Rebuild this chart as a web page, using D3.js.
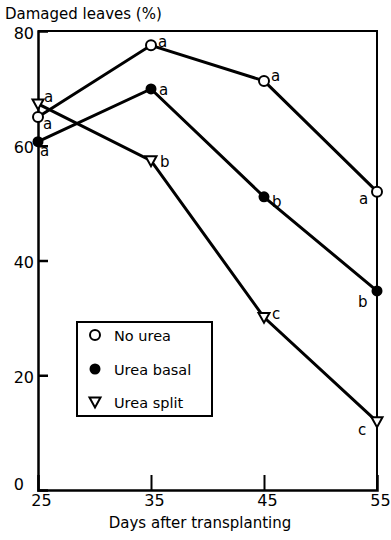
<!DOCTYPE html>
<html>
<head>
<meta charset="utf-8">
<script src="https://cdn.jsdelivr.net/npm/d3@7"></script>
<style>
  html, body { margin: 0; padding: 0; background: #fff; }
  svg { display: block; }
  text { font-family: "DejaVu Sans", sans-serif; fill: #000; }
</style>
</head>
<body>
<svg id="chart" width="391" height="540"></svg>
<script>
// Days after transplanting
const days = [25, 35, 45, 55];
// Damaged leaves (%) per treatment
const noUrea = [65, 77.5, 71.3, 52];
const ureaBasal = [60.7, 69.9, 51.1, 34.7];
const ureaSplit = [67.3, 57.4, 30.1, 11.9];
// Significance letters per treatment
const lettersNoUrea = ["a", "a", "a", "a"];
const lettersBasal = ["a", "a", "b", "b"];
const lettersSplit = ["a", "b", "c", "c"];
// Axis ticks
const yTicks = [0, 20, 40, 60, 80];
const xTicks = [25, 35, 45, 55];
const seriesNames = ["No urea", "Urea basal", "Urea split"];

const svg = d3.select("#chart");
const x = d3.scaleLinear().domain([25, 55]).range([38, 377]);
const y = d3.scaleLinear().domain([0, 80]).range([490, 31]);

// frame: top and right borders
svg.append("path")
  .attr("d", `M${x(25)},${y(80)}H${x(55)}V${y(0)}`)
  .attr("fill", "none").attr("stroke", "#000").attr("stroke-width", 2);

// y axis with inward ticks
const yAxis = svg.append("g").attr("transform", `translate(${x(25)},0)`)
  .call(d3.axisLeft(y).tickValues(yTicks).tickSize(-10).tickPadding(4).tickFormat(d3.format("d")));
yAxis.select(".domain").attr("stroke-width", 2.5);
yAxis.selectAll(".tick line").attr("stroke-width", 2.5);
yAxis.selectAll(".tick text").attr("font-size", 16).attr("font-family", "DejaVu Sans")
  .attr("fill", "#000").attr("dy", "0.45em");
yAxis.selectAll(".tick").filter(d => d === 0).select("text").attr("dy", "-0.05em").attr("x", -14);
yAxis.selectAll(".tick").filter(d => d === 80 || d === 0).select("line").remove();

// x axis with inward ticks
const xAxis = svg.append("g").attr("transform", `translate(0,${y(0)})`)
  .call(d3.axisBottom(x).tickValues(xTicks).tickSize(-15).tickPadding(5).tickFormat(d3.format("d")));
xAxis.select(".domain").attr("stroke-width", 2.5);
xAxis.selectAll(".tick line").attr("stroke-width", 2);
xAxis.selectAll(".tick text").attr("font-size", 16).attr("font-family", "DejaVu Sans")
  .attr("fill", "#000").attr("dx", 3);
xAxis.selectAll(".tick").filter(d => d === 25 || d === 55).select("line").remove();

// axis titles
svg.append("text").attr("x", 5).attr("y", 19).attr("font-size", 15).text("Damaged leaves (%)");
svg.append("text").attr("x", 200).attr("y", 528).attr("font-size", 15)
  .attr("text-anchor", "middle").text("Days after transplanting");

const line = d3.line().x((d, i) => x(days[i])).y(d => y(d));
const series = [
  { vals: noUrea, letters: lettersNoUrea, sym: "circle" },
  { vals: ureaBasal, letters: lettersBasal, sym: "dot" },
  { vals: ureaSplit, letters: lettersSplit, sym: "tri" }
];

series.forEach(s => {
  svg.append("path").attr("d", line(s.vals)).attr("fill", "none")
    .attr("stroke", "#000").attr("stroke-width", 3);
});

function marker(g, sym, cx, cy) {
  if (sym === "circle") {
    g.append("circle").attr("cx", cx).attr("cy", cy).attr("r", 5)
      .attr("fill", "#fff").attr("stroke", "#000").attr("stroke-width", 2);
  } else if (sym === "dot") {
    g.append("circle").attr("cx", cx).attr("cy", cy).attr("r", 5.5).attr("fill", "#000");
  } else {
    const h = 5.5;
    g.append("path")
      .attr("d", `M${cx - h},${cy - h * 0.8}L${cx + h},${cy - h * 0.8}L${cx},${cy + h * 1.0}Z`)
      .attr("fill", "#fff").attr("stroke", "#000").attr("stroke-width", 2);
  }
}

series.forEach(s => {
  s.vals.forEach((v, i) => marker(svg, s.sym, x(days[i]), y(v)));
});

// significance letters: [dx, dy] offsets from each point
const letterOffsets = {
  circle: [[5, 8], [7, -2], [7, -4], [-18, 8]],
  dot: [[2, 10], [8, 2], [8, 6], [-19, 12]],
  tri: [[6, -6], [9, 2], [8, -2], [-19, 9]]
};
series.forEach(s => {
  s.vals.forEach((v, i) => {
    const [dx, dy] = letterOffsets[s.sym][i];
    svg.append("text").attr("x", x(days[i]) + dx).attr("y", y(v) + dy + 4)
      .attr("font-size", 15).attr("fill", "#000").text(s.letters[i]);
  });
});

// legend
const lg = svg.append("g");
lg.append("rect").attr("x", 77).attr("y", 322).attr("width", 135).attr("height", 94)
  .attr("fill", "#fff").attr("stroke", "#000").attr("stroke-width", 2);
const syms = ["circle", "dot", "tri"];
[335, 369, 402].forEach((ly, i) => {
  marker(lg, syms[i], 95, ly);
  lg.append("text").attr("x", 114).attr("y", ly + 5.5).attr("font-size", 14.5)
    .attr("fill", "#000").text(seriesNames[i]);
});
</script>
</body>
</html>
